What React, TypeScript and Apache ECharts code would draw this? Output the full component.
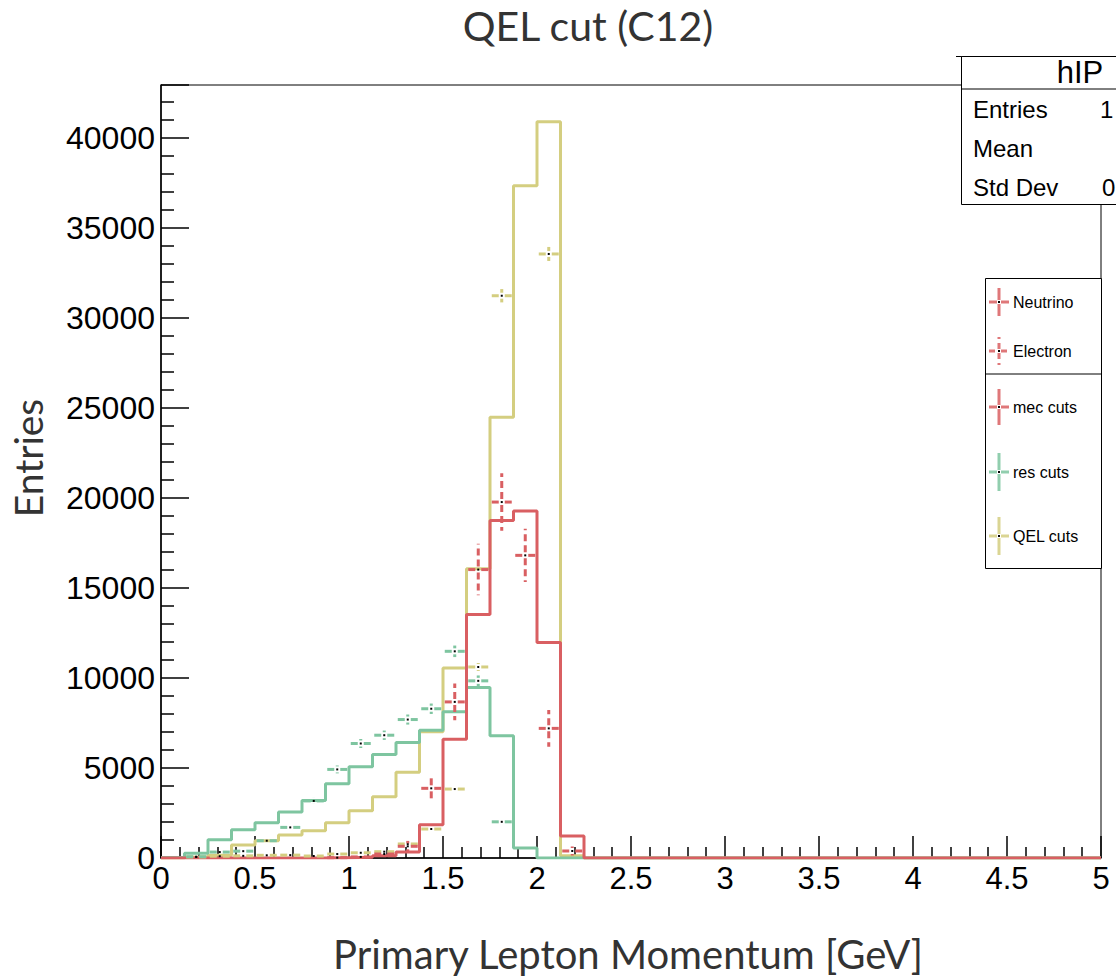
import React, { useEffect, useRef } from "react";
import * as echarts from "echarts";

// ---- binning / axes ----
const BIN_WIDTH = 0.125; // 40 bins over 0..5 GeV
const X_MIN = 0;
const X_MAX = 5;
const Y_MAX = 42935;
const xTickLabels = ["0", "0.5", "1", "1.5", "2", "2.5", "3", "3.5", "4", "4.5", "5"];
const yTickLabels = ["0", "5000", "10000", "15000", "20000", "25000", "30000", "35000", "40000"];

// ---- Neutrino histograms (solid step lines), 40 bins ----
const mecNeutrino = [
  0, 0, 0, 0, 0, 0, 0, 20, 40, 130,
  330, 1850, 6600, 13520, 18750, 19270, 11970, 1220, 0, 0,
  0, 0, 0, 0, 0, 0, 0, 0, 0, 0,
  0, 0, 0, 0, 0, 0, 0, 0, 0, 0,
];
const resNeutrino = [
  30, 270, 1020, 1570, 1960, 2560, 3200, 4120, 5070, 5750,
  6410, 7100, 8120, 9470, 6790, 560, 0, 0, 0, 0,
  0, 0, 0, 0, 0, 0, 0, 0, 0, 0,
  0, 0, 0, 0, 0, 0, 0, 0, 0, 0,
];
const qelNeutrino = [
  0, 40, 150, 720, 960, 1280, 1510, 1960, 2630, 3400,
  4760, 7010, 10560, 16070, 24480, 37340, 40890, 130, 0, 0,
  0, 0, 0, 0, 0, 0, 0, 0, 0, 0,
  0, 0, 0, 0, 0, 0, 0, 0, 0, 0,
];

// ---- Electron points (dashed error crosses), bins 0..17 ----
const mecElectron = [0, 0, 0, 0, 0, 0, 0, 20, 60, 220, 650, 3870, 8670, 16020, 19770, 16810, 7200, 390];
const mecElectronErr = [0, 0, 0, 0, 0, 0, 0, 60, 100, 170, 300, 740, 1020, 1430, 1600, 1480, 1020, 250];
const resElectron = [0, 70, 330, 380, 960, 1700, 3170, 4920, 6360, 6820, 7690, 8290, 11480, 9840, 2010, 0, 0, 0];
const resElectronErr = [0, 30, 60, 60, 100, 130, 170, 220, 250, 260, 280, 290, 320, 300, 140, 0, 0, 0];
const qelElectron = [0, 60, 100, 120, 150, 160, 110, 220, 290, 350, 780, 1610, 3830, 10610, 31230, 0, 33550, 0];
const qelElectronErr = [0, 20, 25, 25, 30, 30, 25, 35, 40, 45, 70, 100, 140, 220, 370, 0, 390, 0];

const RED = "#d95f62";
const GREEN = "#7ec5a0";
const YELLOW = "#d4ce80";

const stepData = (vals: number[]) => {
  const pts: number[][] = vals.map((v, i) => [X_MIN + i * BIN_WIDTH, v]);
  pts.push([X_MAX, vals[vals.length - 1]]);
  return pts;
};

const histSeries = (name: string, color: string, vals: number[], z: number) => ({
  type: "line",
  name,
  step: "end",
  data: stepData(vals),
  symbol: "none",
  silent: true,
  z,
  lineStyle: { color, width: 3 },
  itemStyle: { color },
});

const markerSeries = (name: string, color: string, vals: number[], errs: number[], z: number) => ({
  type: "custom",
  name,
  z,
  silent: true,
  encode: { x: 0, y: 1 },
  data: vals
    .map((v, i) => [X_MIN + (i + 0.5) * BIN_WIDTH, v, errs[i]])
    .filter((d) => d[1] > 0),
  renderItem: (_params: any, api: any) => {
    const x = api.value(0);
    const y = api.value(1);
    const e = api.value(2);
    const c = api.coord([x, y]);
    const l = api.coord([x - BIN_WIDTH / 2, y]);
    const r = api.coord([x + BIN_WIDTH / 2, y]);
    const t = api.coord([x, y + e]);
    const b = api.coord([x, Math.max(0, y - e)]);
    const gap = 3;
    const style = { stroke: color, lineWidth: 3, lineDash: [7, 4], fill: null };
    const children: any[] = [
      { type: "line", shape: { x1: c[0] - gap, y1: c[1], x2: l[0] + 1.5, y2: c[1] }, style },
      { type: "line", shape: { x1: c[0] + gap, y1: c[1], x2: r[0] - 1.5, y2: c[1] }, style },
    ];
    if (c[1] - t[1] > gap) {
      children.push({ type: "line", shape: { x1: c[0], y1: c[1] - gap, x2: c[0], y2: t[1] }, style });
    }
    if (b[1] - c[1] > gap) {
      children.push({ type: "line", shape: { x1: c[0], y1: c[1] + gap, x2: c[0], y2: b[1] }, style });
    }
    children.push({ type: "rect", shape: { x: c[0] - 1, y: c[1] - 1, width: 2, height: 2 }, style: { fill: "#000" } });
    return { type: "group", children };
  },
});

const legendCross = (cx: number, cy: number, color: string, half: number, dashed: boolean) => {
  const style: any = { stroke: color, lineWidth: 3, opacity: 0.85 };
  if (dashed) style.lineDash = [6, 4];
  return [
    { type: "line", shape: { x1: cx - 10, y1: cy, x2: cx - 2, y2: cy }, style },
    { type: "line", shape: { x1: cx + 2, y1: cy, x2: cx + 10, y2: cy }, style },
    { type: "line", shape: { x1: cx, y1: cy - 2, x2: cx, y2: cy - half }, style },
    { type: "line", shape: { x1: cx, y1: cy + 2, x2: cx, y2: cy + half }, style },
    { type: "rect", shape: { x: cx - 1, y: cy - 1, width: 2, height: 2 }, style: { fill: "#000" } },
  ];
};

const legendText = (x: number, y: number, text: string) => ({
  type: "text",
  x,
  y,
  style: { text, font: "16px 'Liberation Sans'", fill: "#000", align: "left", verticalAlign: "middle" },
});

const statText = (x: number, y: number, text: string) => ({
  type: "text",
  x,
  y,
  style: { text, font: "24px 'Liberation Sans'", fill: "#000", align: "left", verticalAlign: "middle" },
});

export default function App() {
  const ref = useRef<HTMLDivElement>(null);
  useEffect(() => {
    document.body.style.margin = "0";
    if (!ref.current) return;
    const chart = echarts.init(ref.current, null, { renderer: "svg" });
    chart.setOption({
      animation: false,
      backgroundColor: "#fff",
      grid: {
        left: 161,
        top: 85,
        right: 15,
        bottom: 121,
        show: true,
        borderColor: "#000",
        borderWidth: 1,
        backgroundColor: "transparent",
      },
      xAxis: {
        type: "value",
        min: X_MIN,
        max: X_MAX,
        interval: 0.5,
        axisLine: { show: true, onZero: false, lineStyle: { color: "#000", width: 1.5 } },
        axisTick: { show: true, inside: true, length: 22, lineStyle: { color: "#000", width: 1.5 } },
        minorTick: { show: true, splitNumber: 5, length: 11, lineStyle: { color: "#000", width: 1.5 } },
        splitLine: { show: false },
        axisLabel: {
          fontFamily: "Liberation Sans",
          fontSize: 31,
          color: "#000",
          margin: 5,
          formatter: (v: number) => xTickLabels[Math.round(v / 0.5)] ?? "",
        },
      },
      yAxis: {
        type: "value",
        min: 0,
        max: Y_MAX,
        interval: 5000,
        axisLine: { show: true, lineStyle: { color: "#000", width: 1.5 } },
        axisTick: { show: true, inside: true, length: 28, lineStyle: { color: "#000", width: 1.5 } },
        minorTick: { show: true, splitNumber: 5, length: 13, lineStyle: { color: "#000", width: 1.5 } },
        splitLine: { show: false },
        axisLabel: {
          fontFamily: "Liberation Sans",
          fontSize: 32,
          color: "#000",
          margin: 6,
          showMaxLabel: false,
          formatter: (v: number) => yTickLabels[Math.round(v / 5000)] ?? "",
        },
      },
      series: [
        histSeries("QEL cuts", YELLOW, qelNeutrino, 2),
        histSeries("res cuts", GREEN, resNeutrino, 3),
        histSeries("mec cuts", RED, mecNeutrino, 4),
        markerSeries("QEL cuts electron", YELLOW, qelElectron, qelElectronErr, 5),
        markerSeries("res cuts electron", GREEN, resElectron, resElectronErr, 6),
        markerSeries("mec cuts electron", RED, mecElectron, mecElectronErr, 7),
      ],
      graphic: [
        {
          type: "text",
          x: 588,
          y: 25,
          style: { text: "QEL cut (C12)", font: "41px Lato", fill: "#333", align: "center", verticalAlign: "middle" },
        },
        {
          type: "text",
          x: 628,
          y: 954,
          style: {
            text: "Primary Lepton Momentum [GeV]",
            font: "40px Lato",
            fill: "#333",
            align: "center",
            verticalAlign: "middle",
          },
        },
        {
          type: "text",
          x: 28,
          y: 458,
          rotation: Math.PI / 2,
          style: { text: "Entries", font: "39px Lato", fill: "#333", align: "center", verticalAlign: "middle" },
        },
        // stats box
        {
          type: "group",
          z: 100,
          children: [
            { type: "line", shape: { x1: 956, y1: 56.5, x2: 1116, y2: 56.5 }, style: { stroke: "#000", lineWidth: 1 } },
            {
              type: "rect",
              shape: { x: 961.5, y: 56.5, width: 200, height: 148 },
              style: { fill: "#fff", stroke: "#000", lineWidth: 1 },
            },
            { type: "line", shape: { x1: 961.5, y1: 89, x2: 1116, y2: 89 }, style: { stroke: "#000", lineWidth: 1 } },
            {
              type: "text",
              x: 1080,
              y: 72,
              style: { text: "hIP", font: "31px 'Liberation Sans'", fill: "#000", align: "center", verticalAlign: "middle" },
            },
            statText(973, 109, "Entries"),
            statText(973, 148, "Mean"),
            statText(973, 187, "Std Dev"),
            statText(1100, 109, "1"),
            statText(1102, 187, "0"),
          ],
        },
        // legend box
        {
          type: "group",
          z: 100,
          children: [
            {
              type: "rect",
              shape: { x: 985.5, y: 278.5, width: 116, height: 290 },
              style: { fill: "#fff", stroke: "#000", lineWidth: 1 },
            },
            { type: "line", shape: { x1: 985.5, y1: 374, x2: 1101.5, y2: 374 }, style: { stroke: "#000", lineWidth: 1 } },
            ...legendCross(999, 302, RED, 14, false),
            legendText(1013, 302, "Neutrino"),
            ...legendCross(999, 351, RED, 14, true),
            legendText(1013, 351, "Electron"),
            ...legendCross(999, 407, RED, 18, false),
            legendText(1013, 407, "mec cuts"),
            ...legendCross(999, 472, GREEN, 19, false),
            legendText(1013, 472, "res cuts"),
            ...legendCross(999, 536, YELLOW, 19, false),
            legendText(1013, 536, "QEL cuts"),
          ],
        },
      ],
    });
    return () => chart.dispose();
  }, []);
  return <div ref={ref} style={{ width: 1116, height: 979 }} />;
}
